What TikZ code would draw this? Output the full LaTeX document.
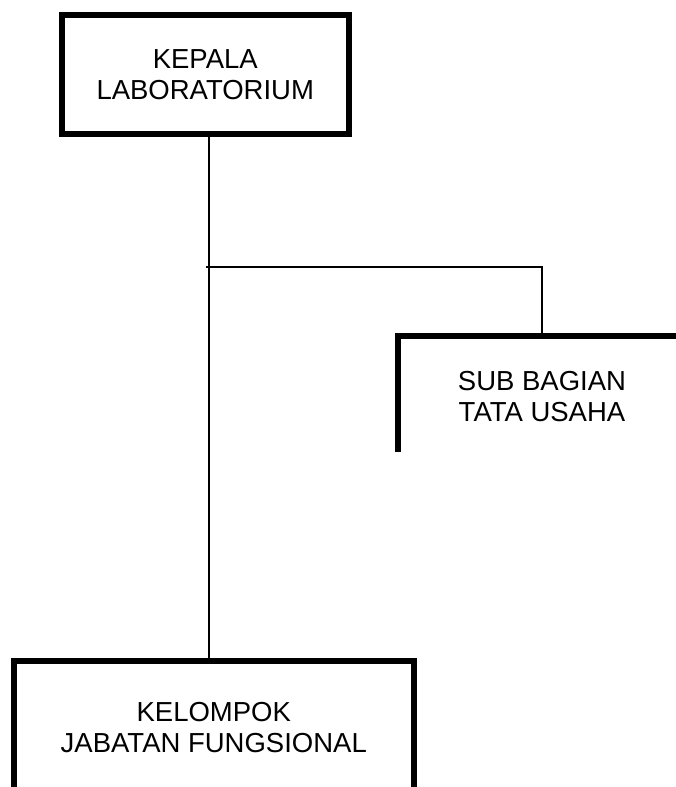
\documentclass[tikz,border=0pt]{standalone}
\usepackage{fontspec}
\setmainfont{Liberation Sans}
\begin{document}
\begin{tikzpicture}[x=1pt,y=-1pt,
  box/.style={draw, line width=6pt, align=center, inner sep=0pt,
    font=\fontsize{27.5}{31}\selectfont},
  link/.style={line width=1.5pt}]
\useasboundingbox (0,0) rectangle (676,787);
\clip (0,0) rectangle (676,787);
\node[box, minimum width=287.5pt, minimum height=119.5pt] (kepala) at (205.25,74.25) {KEPALA\\LABORATORIUM};
\node[box, draw=none, outer sep=0pt, minimum width=288pt, minimum height=122pt] (sub) at (542,397) {SUB BAGIAN\\TATA USAHA};
\draw[line width=6pt, line join=miter] ([yshift=6pt]sub.south west) -- (sub.north west) -- (sub.north east);
\node[box, minimum width=399.7pt, minimum height=134pt] (kelompok) at (213.8,728) {KELOMPOK\\JABATAN FUNGSIONAL};
\coordinate (tr) at (209,267);
\coordinate (hl) at (205.7,267);
\draw[link] (kepala.south -| tr) -- (kelompok.north -| tr);
\draw[link] (hl) -| (sub.north);
\end{tikzpicture}
\end{document}
